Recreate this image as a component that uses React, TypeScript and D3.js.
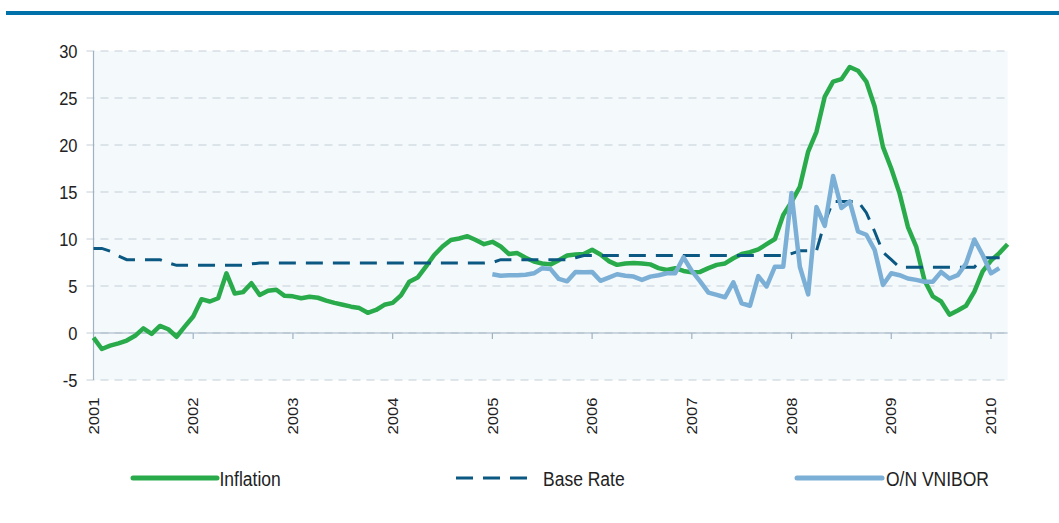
import { useEffect, useRef } from "react";
import * as d3 from "d3";

// monthly, Jan 2001 .. Mar 2010
const startYear = 2001;
const monthCount = 111;
const yearLabels = ["2001", "2002", "2003", "2004", "2005", "2006", "2007", "2008", "2009", "2010"];
const yTicks = [-5, 0, 5, 10, 15, 20, 25, 30];

const inflation = [
    -0.5, -1.7, -1.35, -1.1, -0.8, -0.3, 0.5, -0.1, 0.75, 0.4, -0.4, 0.7,
    1.75, 3.6, 3.35, 3.7, 6.35, 4.2, 4.35, 5.3, 4.05, 4.5, 4.6, 3.95,
    3.9, 3.7, 3.85, 3.75, 3.45, 3.2, 3.0, 2.8, 2.65, 2.15, 2.45, 3.0,
    3.2, 4.0, 5.45, 5.9, 7.05, 8.3, 9.2, 9.9, 10.05, 10.3, 9.9, 9.45,
    9.7, 9.2, 8.4, 8.5, 8.0, 7.6, 7.4, 7.3, 7.75, 8.25, 8.35, 8.4,
    8.85, 8.35, 7.65, 7.25, 7.4, 7.45, 7.4, 7.3, 6.9, 6.7, 6.9, 6.6,
    6.45, 6.5, 6.9, 7.25, 7.4, 7.95, 8.4, 8.6, 8.9, 9.45, 10.0, 12.55,
    13.95, 15.55, 19.3, 21.4, 25.15, 26.75, 27.0, 28.3, 27.9, 26.75, 24.1, 19.8,
    17.5, 14.85, 11.3, 9.2, 5.6, 3.9, 3.35, 1.95, 2.4, 2.9, 4.4, 6.55,
    7.7, 8.5, 9.45,
];

const baseRate = [
    9.0, 9.0, 8.7, 8.2, 7.8, 7.8, 7.8, 7.8, 7.8, 7.45, 7.2, 7.2,
    7.2, 7.2, 7.2, 7.2, 7.2, 7.2, 7.2, 7.35, 7.44, 7.44, 7.44, 7.44,
    7.44, 7.44, 7.44, 7.44, 7.44, 7.44, 7.44, 7.44, 7.44, 7.44, 7.44, 7.44,
    7.44, 7.44, 7.44, 7.44, 7.44, 7.44, 7.44, 7.44, 7.44, 7.44, 7.44, 7.44,
    7.5, 7.8, 7.8, 7.8, 7.8, 7.8, 7.8, 7.8, 7.8, 7.8, 8.0, 8.25,
    8.25, 8.25, 8.25, 8.25, 8.25, 8.25, 8.25, 8.25, 8.25, 8.25, 8.25, 8.25,
    8.25, 8.25, 8.25, 8.25, 8.25, 8.25, 8.25, 8.25, 8.25, 8.25, 8.25, 8.25,
    8.45, 8.75, 8.75, 8.75, 11.8, 14.0, 14.0, 14.0, 14.0, 12.8, 10.8, 8.6,
    7.8, 7.0, 7.0, 7.0, 7.0, 7.0, 7.0, 7.0, 7.0, 7.0, 7.0, 8.0,
    8.0, 8.0, 8.0,
];

// O/N VNIBOR starts Jan 2005 (index 48), ends Feb 2010
const vniborStart = 48;
const vnibor = [
    6.25, 6.1, 6.15, 6.15, 6.2, 6.35, 6.9, 6.8, 5.75, 5.5, 6.5, 6.45,
    6.5, 5.55, 5.9, 6.25, 6.1, 6.0, 5.65, 6.0, 6.15, 6.35, 6.35, 8.05,
    6.6, 5.5, 4.3, 4.05, 3.8, 5.4, 3.15, 2.9, 6.05, 4.95, 7.05, 7.05,
    14.9, 7.05, 4.1, 13.4, 11.4, 16.7, 13.3, 14.0, 10.8, 10.45, 8.85, 5.1,
    6.35, 6.15, 5.8, 5.65, 5.45, 5.45, 6.5, 5.8, 6.15, 7.4, 9.95, 8.3,
    6.35, 6.9,
];

const GREEN = "#29ab4b";
const DARK = "#0b5882";
const LIGHT = "#7bafd6";
const FONT = "'Liberation Sans', Arial, sans-serif";

export default function App() {
    const svgRef = useRef<SVGSVGElement>(null);

    useEffect(() => {
        if (!svgRef.current) return;
        const svg = d3.select(svgRef.current);
        svg.selectAll("*").remove();

        const W = 1059, H = 523;
        const left = 93.5, right = 1007.6, top = 51, bottom = 380;

        const months = d3.range(monthCount);
        const x = d3.scalePoint<number>().domain(months).range([left, right]);
        const y = d3.scaleLinear().domain([-5, 30]).range([bottom, top]);

        svg.attr("width", W).attr("height", H);

        // top rule
        svg.append("rect").attr("x", 6).attr("y", 11).attr("width", W - 6).attr("height", 4).attr("fill", "#0071a9");

        // plot background
        svg.append("rect")
            .attr("x", left).attr("y", top)
            .attr("width", right - left).attr("height", bottom - top)
            .attr("fill", "#f4f9fc");

        // grid
        svg.append("g").selectAll("line").data(yTicks).join("line")
            .attr("x1", left - 7).attr("x2", right)
            .attr("y1", d => y(d)).attr("y2", d => y(d))
            .attr("stroke", "#c3ced7").attr("stroke-width", 1)
            .attr("stroke-dasharray", "8,6");

        // y labels (text in the source is drawn a bit tall)
        svg.append("g").selectAll("text").data(yTicks).join("text")
            .attr("transform", d => `translate(77.5,${y(d)}) scale(1,1.15)`)
            .attr("dy", "0.36em")
            .attr("text-anchor", "end")
            .attr("font-family", FONT).attr("font-size", 16.5).attr("fill", "#222")
            .text(d => d);

        // axes
        svg.append("line").attr("x1", left).attr("x2", left).attr("y1", top).attr("y2", bottom)
            .attr("stroke", "#9fb2c2").attr("stroke-width", 1.2);
        svg.append("line").attr("x1", left).attr("x2", right).attr("y1", y(0)).attr("y2", y(0))
            .attr("stroke", "#9fb2c2").attr("stroke-width", 1.2);

        const yearIdx = yearLabels.map(yr => (+yr - startYear) * 12);
        svg.append("g").selectAll("line").data(yearIdx.slice(1)).join("line")
            .attr("x1", d => x(d)!).attr("x2", d => x(d)!)
            .attr("y1", y(0)).attr("y2", y(0) + 6)
            .attr("stroke", "#9fb2c2").attr("stroke-width", 1.2);

        svg.append("g").selectAll("text").data(yearLabels).join("text")
            .attr("transform", (d, i) => `translate(${x(yearIdx[i])!},397.5) scale(1,1.15) rotate(-90)`)
            .attr("dy", "0.36em")
            .attr("text-anchor", "end")
            .attr("font-family", FONT).attr("font-size", 14.5).attr("fill", "#222")
            .text(d => d);

        // series
        const line = d3.line<[number, number]>().x(d => x(d[0])!).y(d => y(d[1]));

        svg.append("path")
            .datum(inflation.map((v, i) => [i, v] as [number, number]))
            .attr("fill", "none").attr("stroke", GREEN).attr("stroke-width", 4.5)
            .attr("stroke-linejoin", "round")
            .attr("d", line);

        svg.append("path")
            .datum(baseRate.map((v, i) => [i, v] as [number, number]))
            .attr("fill", "none").attr("stroke", DARK).attr("stroke-width", 3)
            .attr("stroke-dasharray", "17,10")
            .attr("d", line);

        svg.append("path")
            .datum(vnibor.map((v, i) => [i + vniborStart, v] as [number, number]))
            .attr("fill", "none").attr("stroke", LIGHT).attr("stroke-width", 4.5)
            .attr("stroke-linejoin", "round")
            .attr("d", line);

        // legend
        const legend = [
            { label: "Inflation", color: GREEN, x0: 133, x1: 217, tx: 219.5, dash: null, w: 5 },
            { label: "Base Rate", color: DARK, x0: 456, x1: 532, tx: 543, dash: "17,10", w: 3 },
            { label: "O/N VNIBOR", color: LIGHT, x0: 797, x1: 882, tx: 886, dash: null, w: 5 },
        ];
        const lg = svg.append("g").selectAll("g").data(legend).join("g");
        lg.append("line")
            .attr("x1", d => d.x0).attr("x2", d => d.x1).attr("y1", 478).attr("y2", 478)
            .attr("stroke", d => d.color).attr("stroke-width", d => d.w)
            .attr("stroke-linecap", d => d.dash ? "butt" : "round")
            .attr("stroke-dasharray", d => d.dash);
        lg.append("text")
            .attr("transform", d => `translate(${d.tx},478.5) scale(1,1.19)`)
            .attr("dy", "0.36em")
            .attr("font-family", FONT).attr("font-size", 17.5).attr("fill", "#222")
            .text(d => d.label);
    }, []);

    return (
        <svg ref={svgRef} style={{ position: "absolute", left: 0, top: 0 }}></svg>
    );
}
